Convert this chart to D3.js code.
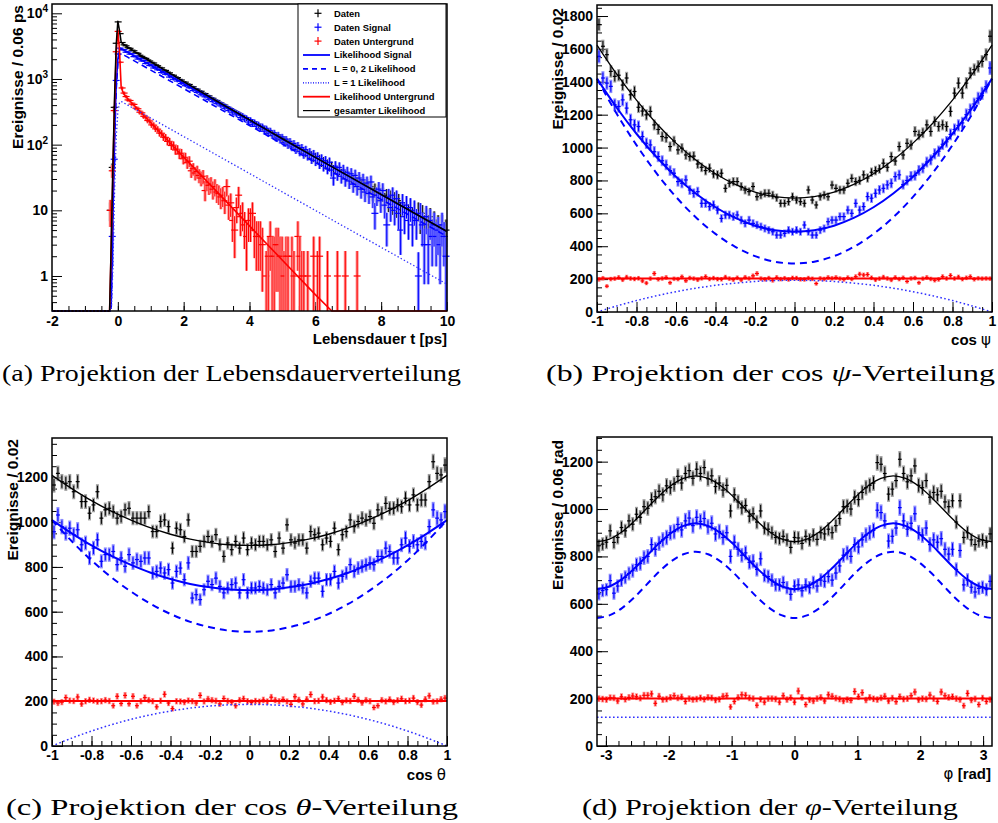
<!DOCTYPE html>
<html>
<head>
<meta charset="utf-8">
<title>Projektionen der Fitverteilungen</title>
<script src="https://d3js.org/d3.v7.min.js"></script>
<style>
  html, body { margin: 0; padding: 0; background: #fff; }
  svg { display: block; }
</style>
</head>
<body>
<svg id="fig" width="998" height="823"></svg>
<script>
// ===================== (a) Lebensdauer t [ps] =====================
// Histogram bins of 0.06 ps; the first listed bin is centred at -0.23 ps.
const lifeFirstBin = -0.23;
const lifeBinWidth = 0.06;

const lifeAll = [
  10,45,370,3500,7400,4900,
  3590,3310,3200,2990,2930,2745,2690,2510,2460,2300,
  2210,2120,2060,1950,1880,1790,1750,1640,1590,1500,
  1475,1370,1350,1270,1240,1160,1140,1070,1050,985,
  965,905,895,835,825,765,760,705,700,648,
  650,595,600,548,552,505,508,468,470,432,
  432,398,400,366,368,340,338,312,314,290,
  290,266,266,246,245,228,228,210,210,194,
  194,178,180,166,166,152,154,141,142,130,
  133,119,124,111,112,103,104,95,97,88,
  90,80,83,73,77,68,71,62,67,58,
  62,53,57,49,52,46,48,41,45,38,
  42,35,39,32,36,30,33,27,31,25,
  29,23,27,21,25,20,23,18,21,17,
  20,15,18,14,17,13,16,12,15,11,
  14,10,13,9,12,9,11,8,10,7,
  10,7,9,6,8,6,8,5,7,5,
  6,4,6,4,5
];
const lifeSignal = [
  0,4,60,950,2400,2950,
  2800,2790,2560,2580,2390,2420,2190,2230,2010,2060,
  1880,1920,1720,1770,1600,1640,1470,1520,1380,1400,
  1250,1290,1180,1200,1070,1110,990,1030,930,955,
  850,880,790,815,735,752,668,700,625,648,
  574,596,535,556,490,512,452,474,421,440,
  389,410,358,378,330,352,305,323,284,301,
  259,279,240,258,221,240,204,222,190,205,
  174,191,160,177,149,164,137,152,126,141,
  118,131,107,121,99,112,92,104,84,97,
  78,90,72,84,68,77,61,72,57,66,
  52,61,48,57,44,54,41,31,47,36,
  45,33,41,30,38,28,36,25,34,23,
  31,21,29,19,26,18,27,16,9,17,
  21,14,20,12,6,16,11,17,10,15,
  9,5,13,8,12,7,11,6,10,7,
  1,9,6,3,8,3,7,4,6,4,
  5,3,6,4,2
];
const lifeBkg = [
  10,40,330,2600,5300,1800,
  730,610,540,480,470,415,410,360,352,312,
  305,270,262,233,229,200,198,174,172,150,
  149,130,129,112,112,97,98,83,85,72,
  74,61,64,53,56,40,43,37,39,34,
  31,33,20,27,24,25,21,23,19,18,
  16,17,14,23,12,13,7,5,11,17,
  8,9,6,4,7,7,9,5,4,4,
  4,3,0,1,2,4,2,2,3,3,
  2,2,1,2,2,0,2,1,0,4,
  2,1,1,0,1,0,0,2,0,1,
  2,0,0,0,1,0,0,0,0,1,
  0,0,0,1,0,0,0,0,0,1
];

// Fit curves, sampled in t
const lifeCurveT      = [-2,-0.25,-0.2,-0.15,-0.1,-0.05,0,0.05,0.1,0.15,0.2,0.3,0.5,1,2,3,4,5,6,6.5,7,8,9,10];
const lifeCurveSignal = [0,0,0.4,8,120,800,2000,2750,2900,2808,2718,2548,2238,1619,847,443,232,121,63.5,45.9,33.2,17.4,9.1,4.76];
const lifeCurveEven   = [0,0,0.34,6.7,101,674,1685,2318,2444,2367,2291,2148,1887,1365,714,373,196,102,53.5,38.7,28.0,14.7,7.67,4.01];
const lifeCurveOdd    = [0,0,0.06,1.3,19,126,315,432,456,441,427,400,351,254,133,69.6,36.4,19.0,9.97,7.2,5.21,2.73,1.43,0.75];
const lifeCurveBkg    = [0,0,3,40,400,2500,5570,2760,771,640,575,501,394,215,64.6,19.4,5.8,1.74,0.52,0.285,0.156,0.047,0.014,0.0042];
const lifeCurveTotal  = [0,0,3.4,48,520,3300,7570,5510,3671,3448,3293,3049,2632,1834,912,462,238,123,64.0,46.2,33.4,17.4,9.1,4.76];

const lifeXTicks = [-2,0,2,4,6,8,10];
const lifeYTicks = [1,10,100,1000,10000];

// ===================== (b) cos psi =====================
// 100 bins of 0.02 between -1 and 1
const psiAll = [
  1748,1616,1565,1463,1433,1440,1380,1423,1321,1341,
  1245,1222,1199,1220,1138,1110,1067,1060,1006,1040,
  986,996,955,945,948,900,880,860,875,840,
  834,844,752,783,793,793,763,742,732,763,
  701,711,722,722,711,695,661,661,671,701,
  681,671,661,742,681,651,701,711,701,772,
  752,742,742,783,813,793,800,834,815,850,
  860,870,905,880,945,918,1006,955,1026,1016,
  1098,1077,1090,1138,1098,1159,1128,1138,1128,1220,
  1331,1392,1331,1392,1453,1474,1494,1524,1565,1677
];
const psiSignal = [
  1555,1423,1392,1372,1260,1250,1290,1240,1169,1138,
  1128,1067,1026,1016,975,945,920,895,860,844,
  793,783,803,742,722,732,661,661,641,651,
  620,569,590,590,580,590,559,539,559,539,
  529,519,508,498,488,468,468,478,498,488,
  498,488,529,488,468,468,498,508,549,559,
  559,580,580,620,600,661,620,641,702,692,
  722,742,752,773,783,823,834,775,800,826,
  830,862,875,912,925,962,978,1020,1035,1080,
  1110,1135,1150,1200,1230,1265,1300,1330,1370,1484
];
const psiBkg = [
  198,205,157,200,203,210,196,212,204,201,
  205,189,176,203,234,199,204,210,178,202,
  200,214,190,207,203,196,205,215,201,206,
  200,199,212,203,197,208,195,211,204,220,
  234,203,199,206,192,210,200,205,198,207,
  206,199,198,206,202,173,204,201,210,205,
  210,203,198,209,201,215,230,225,228,208,
  196,203,212,204,195,210,200,208,186,204,
  207,178,203,210,201,193,198,215,204,222,
  204,213,200,208,215,199,205,203,204,203
];
const angCurveX      = [-1,-0.9,-0.8,-0.7,-0.6,-0.5,-0.4,-0.3,-0.2,-0.1,0,0.1,0.2,0.3,0.4,0.5,0.6,0.7,0.8,0.9,1];
const psiCurveTotal  = [1623,1446,1288,1148,1027,925,841,776,729,701,692,701,729,776,841,925,1027,1148,1288,1446,1623];
const psiCurveSignal = [1419,1242,1084,944,823,721,637,572,525,497,488,497,525,572,637,721,823,944,1084,1242,1419];
const psiCurveEven   = [1419,1205,1015,846,700,576,475,396,340,306,295,306,340,396,475,576,700,846,1015,1205,1419];
const psiCurveOdd    = [0,36.7,69.5,98.4,123.5,144.8,162.1,175.6,185.3,191.1,193,191.1,185.3,175.6,162.1,144.8,123.5,98.4,69.5,36.7,0];
const psiCurveBkg    = [204,204,204,204,204,204,204,204,204,204,204,204,204,204,204,204,204,204,204,204,204];

// ===================== (c) cos theta =====================
const thetaAll = [
  1166,1218,1181,1174,1181,1136,1181,1092,1092,1040,
  1077,1136,1018,1055,1062,1047,1018,1025,1055,1062,
  1018,1018,1018,1018,1047,958,958,1003,1010,980,
  884,973,966,936,1010,869,869,892,914,936,
  914,944,899,847,907,877,914,884,929,877,
  907,899,914,914,899,921,869,929,884,988,
  921,907,921,921,884,958,944,951,899,929,
  914,973,877,944,958,1010,980,1003,1018,1010,
  1025,995,1055,1040,1084,1062,1062,1077,1069,1107,
  1077,1122,1077,1099,1099,1181,1270,1218,1211,1255
];
const thetaSignal = [
  957,1032,980,951,973,944,966,899,907,840,
  884,921,825,855,855,869,810,840,803,855,
  818,833,825,840,840,773,780,795,773,788,
  728,780,795,743,818,661,676,654,698,736,
  721,750,713,684,706,721,728,684,743,684,
  706,706,713,706,698,721,684,713,728,765,
  713,713,721,706,684,736,750,750,691,743,
  743,780,728,758,773,810,780,795,803,810,
  818,810,847,847,884,869,840,840,899,929,
  892,914,899,914,907,980,1055,1018,1010,1047
];
const thetaBkg = [
  198,192,196,216,203,201,219,188,200,206,
  203,198,200,205,201,180,222,190,226,189,
  222,180,200,216,205,200,175,202,231,192,
  167,200,199,196,203,200,192,226,199,210,
  205,202,188,212,201,196,180,205,211,200,
  195,201,198,206,199,218,205,200,208,199,
  186,220,206,188,209,230,200,202,219,205,
  197,202,211,195,204,201,222,206,193,205,
  200,172,180,205,199,208,196,204,211,200,
  203,214,196,183,209,224,198,200,209,214
];
const thetaCurveTotal  = [1209,1150,1096,1049,1009,974,946,924,909,899,896,899,909,924,946,974,1009,1049,1096,1150,1209];
const thetaCurveSignal = [1009,950,896,849,809,774,746,724,709,699,696,699,709,724,746,774,809,849,896,950,1009];
const thetaCurveEven   = [1009,914.7,829,754.1,690,634.5,589.8,554.7,530.4,514.9,510,514.9,530.4,554.7,589.8,634.5,690,754.1,829,914.7,1009];
const thetaCurveOdd    = [0,35.3,67,94.9,119,139.5,156.2,169.3,178.6,184.1,186,184.1,178.6,169.3,156.2,139.5,119,94.9,67,35.3,0];
const thetaCurveBkg    = [201,201,201,201,201,201,201,201,201,201,201,201,201,201,201,201,201,201,201,201,201];
const angXTicks = [-1,-0.8,-0.6,-0.4,-0.2,0,0.2,0.4,0.6,0.8,1];

// ===================== (d) phi [rad] =====================
// 105 bins spanning -pi .. pi
const phiAll = [
  845,852,860,908,859,880,922,908,950,936,
  978,965,1010,1003,1040,1052,1075,1060,1098,1090,
  1105,1138,1110,1150,1162,1130,1168,1150,1175,1128,
  1140,1095,1110,1080,1100,992,1060,1030,1005,1015,
  970,980,945,992,920,915,900,880,875,885,
  870,838,880,878,855,885,870,890,872,900,
  895,915,900,930,960,1010,1012,1000,1050,1040,
  1070,1090,1100,1110,1196,1189,1150,1063,1084,1120,
  1210,1150,1115,1140,1182,1100,1090,1120,1050,1070,
  1060,1075,1030,1010,1035,945,1035,880,900,870,
  850,865,870,860,895
];
const phiSignal = [
  642,656,660,698,645,675,700,712,728,740,
  765,770,795,800,850,830,855,870,880,900,
  905,935,912,950,962,930,965,948,960,925,
  940,895,905,880,900,800,860,830,805,815,
  775,780,745,790,720,715,700,680,680,690,
  668,640,675,680,655,680,668,690,675,700,
  695,715,700,730,760,805,815,800,850,840,
  870,890,900,910,995,985,950,865,885,920,
  1006,950,915,940,980,900,890,920,850,870,
  860,875,830,810,830,745,825,680,700,670,
  650,665,670,660,695
];
const phiBkg = [
  200,198,196,204,203,190,208,197,205,211,
  208,202,214,214,220,180,210,196,198,205,
  212,203,207,188,200,196,198,203,197,205,
  203,194,197,210,212,165,188,205,216,214,
  203,200,172,197,185,200,200,198,185,212,
  196,204,185,232,205,175,195,190,200,205,
  190,216,210,202,198,190,196,193,230,208,
  225,194,205,199,196,203,210,190,202,187,
  208,198,200,212,228,195,200,198,215,200,
  188,228,212,205,208,200,196,170,222,194,
  199,175,202,188,196
];
// curves sampled every pi/16
const phiCurveTotal  = [862,873,903,948,1001,1054,1099,1129,1140,1129,1099,1054,1001,948,903,873,862,873,903,948,1001,1054,1099,1129,1140,1129,1099,1054,1001,948,903,873,862];
const phiCurveSignal = [662,673,703,748,801,854,899,929,940,929,899,854,801,748,703,673,662,673,703,748,801,854,899,929,940,929,899,854,801,748,703,673,662];
const phiCurveEven   = [540,551,581,626,680,734,779,809,820,809,779,734,680,626,581,551,540,551,581,626,680,734,779,809,820,809,779,734,680,626,581,551,540];
const phiCurveOdd    = [121,121,121,121,121,121,121,121,121,121,121,121,121,121,121,121,121,121,121,121,121,121,121,121,121,121,121,121,121,121,121,121,121];
const phiCurveBkg    = [200,200,200,200,200,200,200,200,200,200,200,200,200,200,200,200,200,200,200,200,200,200,200,200,200,200,200,200,200,200,200,200,200];
const phiXTicks = [-3,-2,-1,0,1,2,3];

// ===================== legend & captions =====================
const legendLabels = ["Daten","Daten Signal","Daten Untergrund","Likelihood Signal","L = 0, 2 Likelihood","L = 1 Likelihood","Likelihood Untergrund","gesamter Likelihood"];
const legendKinds  = ["point","point","point","solid","dashed","dotted","solid","thin"];
const legendColors = ["#000","#0000ff","#ff0000","#0000ff","#0000ff","#0000ff","#ff0000","#000"];

// ------------------------------------------------------------------
const SANS = "'Liberation Sans', Arial, Helvetica, sans-serif";
const SERIF = "'Liberation Serif', 'Times New Roman', serif";
const svg = d3.select("#fig");

const BLACK = {dark: "#000", light: "#a0a0a0"};
const BLUE  = {dark: "#0000ff", light: "#8c8cff"};
const RED   = {dark: "#ff0000", light: "#ff8c8c"};

function styleAxis(g) {
  g.select(".domain").remove();
  g.attr("font-family", SANS).attr("font-size", 14).attr("font-weight", "bold");
  g.selectAll("line").attr("stroke", "#000").attr("stroke-width", 1);
  g.selectAll("text").attr("fill", "#000");
}

function numLabel(v) {
  if (Math.abs(v) < 1e-9) return "0";
  if (Math.abs(v - Math.round(v)) < 1e-9) return String(Math.round(v));
  return v.toFixed(1);
}

function drawPoints(g, centers, values, x, y, col, opt) {
  const grp = g.append("g");
  values.forEach((v, i) => {
    if (v == null) return;
    if (opt.log && v <= 0) return;
    const e = opt.errScale * Math.sqrt(Math.max(v, 1));
    const lo = opt.log ? Math.max(v - e, opt.yMin) : Math.max(v - e, 0);
    const hi = v + e;
    const cx = x(centers[i]);
    grp.append("line").attr("x1", cx).attr("x2", cx)
      .attr("y1", y(lo)).attr("y2", y(hi))
      .attr("stroke", col.light).attr("stroke-width", 3);
    const dlo = opt.log ? lo : v - 0.8 * e;
    const dhi = opt.log ? hi : v + 0.8 * e;
    grp.append("line").attr("x1", cx).attr("x2", cx)
      .attr("y1", y(Math.max(dlo, opt.log ? opt.yMin : 0))).attr("y2", y(dhi))
      .attr("stroke", col.dark).attr("stroke-width", 1);
    grp.append("line").attr("x1", cx - opt.hw).attr("x2", cx + opt.hw)
      .attr("y1", y(v)).attr("y2", y(v))
      .attr("stroke", col.dark).attr("stroke-width", 1.2);
  });
}

function drawCurve(g, xs, vs, x, y, color, width, dash, curve, yMin) {
  const line = d3.line()
    .x((d, i) => x(xs[i]))
    .y(d => y(yMin != null ? Math.max(d, yMin) : d))
    .curve(curve);
  const p = g.append("path").attr("d", line(vs))
    .attr("fill", "none").attr("stroke", color).attr("stroke-width", width)
    .attr("stroke-linejoin", "round");
  if (dash) p.attr("stroke-dasharray", dash);
  return p;
}

function frame(g, b) {
  g.append("rect").attr("x", b.x0).attr("y", b.y0)
    .attr("width", b.x1 - b.x0).attr("height", b.y1 - b.y0)
    .attr("fill", "none").attr("stroke", "#000").attr("stroke-width", 1.5);
}

function yTitle(text, x, yEnd) {
  svg.append("text").attr("transform", `translate(${x},${yEnd}) rotate(-90)`)
    .attr("text-anchor", "end").attr("font-family", SANS)
    .attr("font-size", 15.5).attr("font-weight", "bold").text(text);
}

function xTitle(parts, xEnd, yBase) {
  const t = svg.append("text").attr("x", xEnd).attr("y", yBase)
    .attr("text-anchor", "end").attr("font-family", SANS)
    .attr("font-size", 15).attr("font-weight", "bold");
  parts.forEach(p => {
    const s = t.append("tspan").text(p.text);
    if (p.greek) s.attr("font-weight", "normal").attr("font-family", "'DejaVu Sans', sans-serif").attr("font-size", 15);
  });
}

function caption(parts, x0, x1, yBase) {
  const t = svg.append("text").attr("x", x0).attr("y", yBase)
    .attr("font-family", SERIF).attr("font-size", 23)
    .attr("textLength", x1 - x0).attr("lengthAdjust", "spacingAndGlyphs");
  parts.forEach(p => {
    const s = t.append("tspan").text(p.text);
    if (p.italic) s.attr("font-style", "italic");
  });
}

// ---------- linear angular panel ----------
function linearPanel(b, xDomain, yMax, xMajor, xMinor, yMajor, yMinor, series, curveX, curves) {
  const g = svg.append("g");
  const x = d3.scaleLinear().domain(xDomain).range([b.x0, b.x1]);
  const y = d3.scaleLinear().domain([0, yMax]).range([b.y1, b.y0]);

  g.append("g").attr("transform", `translate(0,${b.y1})`)
    .call(d3.axisBottom(x).tickValues(xMinor).tickSize(-5).tickFormat(() => "")).call(styleAxis);
  g.append("g").attr("transform", `translate(0,${b.y1})`)
    .call(d3.axisBottom(x).tickValues(xMajor).tickSize(-10).tickPadding(4.5).tickFormat(numLabel)).call(styleAxis);
  g.append("g").attr("transform", `translate(${b.x0},0)`)
    .call(d3.axisLeft(y).tickValues(yMinor).tickSize(-5).tickFormat(() => "")).call(styleAxis);
  g.append("g").attr("transform", `translate(${b.x0},0)`)
    .call(d3.axisLeft(y).tickValues(yMajor).tickSize(-11).tickPadding(4).tickFormat(numLabel)).call(styleAxis);

  const n = series[0].values.length;
  const w = (xDomain[1] - xDomain[0]) / n;
  const centers = d3.range(n).map(i => xDomain[0] + w * (i + 0.5));
  const hw = Math.min(2.2, (x(w) - x(0)) / 2);
  series.forEach(s => drawPoints(g, centers, s.values, x, y, s.col, {errScale: s.err, hw: hw, log: false}));

  const cv = d3.curveCatmullRom;
  drawCurve(g, curveX, curves.odd, x, y, "#3030ff", 1.5, "1.6,2.4", cv);
  drawCurve(g, curveX, curves.even, x, y, "#0000ff", 2, "7,5", cv);
  drawCurve(g, curveX, curves.bkg, x, y, "#ff0000", 2, null, cv);
  drawCurve(g, curveX, curves.signal, x, y, "#0000ff", 2, null, cv);
  drawCurve(g, curveX, curves.total, x, y, "#000", 1.3, null, cv);
  frame(g, b);
}

// ================= panel (a): logarithmic lifetime =================
(function () {
  const b = {x0: 52, x1: 447, y0: 4, y1: 311};
  const yMin = 0.293, yMax = 13860;
  const g = svg.append("g");
  const x = d3.scaleLinear().domain([-2, 10]).range([b.x0, b.x1]);
  const y = d3.scaleLog().domain([yMin, yMax]).range([b.y1, b.y0]).clamp(true);

  g.append("g").attr("transform", `translate(0,${b.y1})`)
    .call(d3.axisBottom(x).tickValues(d3.range(-4, 21).map(k => k / 2)).tickSize(-5).tickFormat(() => "")).call(styleAxis);
  g.append("g").attr("transform", `translate(0,${b.y1})`)
    .call(d3.axisBottom(x).tickValues(lifeXTicks).tickSize(-9).tickPadding(5).tickFormat(numLabel)).call(styleAxis);

  // minor log ticks
  const minors = [];
  [0.1, 1, 10, 100, 1000, 10000].forEach(dec => {
    for (let m = 2; m <= 9; m++) {
      const v = dec * m;
      if (v > yMin && v < yMax) minors.push(v);
    }
  });
  g.append("g").attr("transform", `translate(${b.x0},0)`)
    .call(d3.axisLeft(y).tickValues(minors).tickSize(-5).tickFormat(() => "")).call(styleAxis);
  g.append("g").attr("transform", `translate(${b.x0},0)`)
    .call(d3.axisLeft(y).tickValues(lifeYTicks).tickSize(-10).tickFormat(() => "")).call(styleAxis);
  lifeYTicks.forEach(v => {
    const exp = Math.round(Math.log10(v));
    const t = g.append("text").attr("x", b.x0 - 4).attr("y", y(v) + 5)
      .attr("text-anchor", "end").attr("font-family", SANS)
      .attr("font-size", 14).attr("font-weight", "bold");
    if (exp <= 1) t.text(String(v));
    else {
      t.append("tspan").text("10");
      t.append("tspan").attr("dy", -6).attr("font-size", 10).text(String(exp));
    }
  });

  const centers = n => d3.range(n).map(i => lifeFirstBin + lifeBinWidth * i);
  drawPoints(g, centers(lifeAll.length), lifeAll, x, y, BLACK, {errScale: 1, hw: 3.5, log: true, yMin});
  drawPoints(g, centers(lifeSignal.length), lifeSignal, x, y, BLUE, {errScale: 1.3, hw: 3.5, log: true, yMin});
  drawPoints(g, centers(lifeBkg.length), lifeBkg, x, y, RED, {errScale: 1.4, hw: 3.5, log: true, yMin});

  const cl = d3.curveLinear;
  drawCurve(g, lifeCurveT, lifeCurveSignal, x, y, "#0000ff", 1.6, null, cl, yMin);
  drawCurve(g, lifeCurveT, lifeCurveEven, x, y, "#0000ff", 1.6, "6,4", cl, yMin);
  drawCurve(g, lifeCurveT, lifeCurveBkg, x, y, "#ff0000", 1.6, null, cl, yMin);
  drawCurve(g, lifeCurveT, lifeCurveTotal, x, y, "#000", 1.5, null, cl, yMin);
  drawCurve(g, lifeCurveT, lifeCurveOdd, x, y, "#3030ff", 1.3, "1.4,2.2", cl, yMin);
  frame(g, b);

  // legend
  const L = {x0: 298, x1: 446, y0: 4, y1: 117};
  const lg = svg.append("g");
  lg.append("rect").attr("x", L.x0).attr("y", L.y0).attr("width", L.x1 - L.x0).attr("height", L.y1 - L.y0)
    .attr("fill", "#fff").attr("stroke", "#000").attr("stroke-width", 1);
  legendLabels.forEach((lab, i) => {
    const cy = 13.3 + 13.9 * i;
    const kind = legendKinds[i], c = legendColors[i];
    if (kind === "point") {
      lg.append("line").attr("x1", 318).attr("x2", 318).attr("y1", cy - 4).attr("y2", cy + 4).attr("stroke", c).attr("stroke-width", 1.2);
      lg.append("line").attr("x1", 314.5).attr("x2", 321.5).attr("y1", cy).attr("y2", cy).attr("stroke", c).attr("stroke-width", 1.2);
    } else {
      const ln = lg.append("line").attr("x1", 303).attr("x2", 330).attr("y1", cy).attr("y2", cy).attr("stroke", c)
        .attr("stroke-width", kind === "dotted" ? 1.2 : (kind === "thin" ? 1.2 : 1.8));
      if (kind === "dashed") ln.attr("stroke-dasharray", "5,4");
      if (kind === "dotted") ln.attr("stroke-dasharray", "1,1.5");
    }
    lg.append("text").attr("x", 334).attr("y", cy + 3.4).attr("font-family", SANS)
      .attr("font-size", 9.4).attr("font-weight", "bold").text(lab);
  });

  yTitle("Ereignisse / 0.06 ps", 23, 5);
  xTitle([{text: "Lebensdauer t [ps]"}], 447, 344);
})();

// ================= panel (b): cos psi =================
linearPanel({x0: 597, x1: 992, y0: 5, y1: 312}, [-1, 1], 1867,
  angXTicks, d3.range(-20, 21).map(k => k / 20),
  d3.range(0, 1801, 200), d3.range(0, 1867, 50),
  [{values: psiAll, col: BLACK, err: 1}, {values: psiSignal, col: BLUE, err: 1.1}, {values: psiBkg, col: RED, err: 1}],
  angCurveX, {total: psiCurveTotal, signal: psiCurveSignal, even: psiCurveEven, odd: psiCurveOdd, bkg: psiCurveBkg});
yTitle("Ereignisse / 0.02", 563, 8);
xTitle([{text: "cos "}, {text: "ψ", greek: true}], 991, 345);

// ================= panel (c): cos theta =================
linearPanel({x0: 52, x1: 447, y0: 438, y1: 746}, [-1, 1], 1376,
  angXTicks, d3.range(-20, 21).map(k => k / 20),
  d3.range(0, 1201, 200), d3.range(0, 1376, 50),
  [{values: thetaAll, col: BLACK, err: 1}, {values: thetaSignal, col: BLUE, err: 1.1}, {values: thetaBkg, col: RED, err: 1}],
  angCurveX, {total: thetaCurveTotal, signal: thetaCurveSignal, even: thetaCurveEven, odd: thetaCurveOdd, bkg: thetaCurveBkg});
yTitle("Ereignisse / 0.02", 18, 439);
xTitle([{text: "cos "}, {text: "θ", greek: true}], 446, 780);

// ================= panel (d): phi =================
const phiCurveX = d3.range(-16, 17).map(k => k * Math.PI / 16);
linearPanel({x0: 597, x1: 992, y0: 437, y1: 746}, [-Math.PI, Math.PI], 1304,
  phiXTicks, d3.range(-15, 16).map(k => k / 5),
  d3.range(0, 1201, 200), d3.range(0, 1304, 50),
  [{values: phiAll, col: BLACK, err: 1}, {values: phiSignal, col: BLUE, err: 1.1}, {values: phiBkg, col: RED, err: 1}],
  phiCurveX, {total: phiCurveTotal, signal: phiCurveSignal, even: phiCurveEven, odd: phiCurveOdd, bkg: phiCurveBkg});
yTitle("Ereignisse / 0.06 rad", 563, 440);
xTitle([{text: "φ", greek: true}, {text: " [rad]"}], 991, 779);

// ================= captions =================
caption([{text: "(a) Projektion der Lebensdauerverteilung"}], 2, 461, 381);
caption([{text: "(b) Projektion der cos "}, {text: "ψ", italic: true}, {text: "-Verteilung"}], 546, 995, 381);
caption([{text: "(c) Projektion der cos "}, {text: "θ", italic: true}, {text: "-Verteilung"}], 6, 458, 815);
caption([{text: "(d) Projektion der "}, {text: "φ", italic: true}, {text: "-Verteilung"}], 582, 958, 815);
</script>
</body>
</html>
